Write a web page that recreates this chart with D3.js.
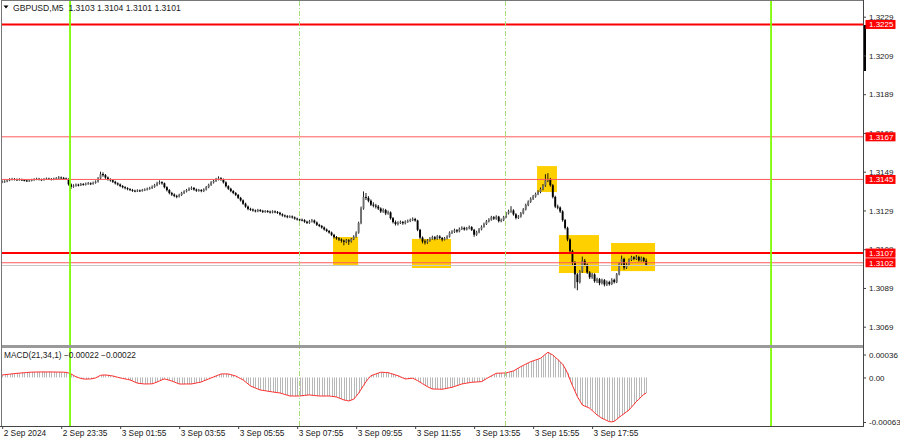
<!DOCTYPE html>
<html><head><meta charset="utf-8">
<script src="https://cdn.jsdelivr.net/npm/d3@7"></script>
<style>
body{margin:0;background:#fff;}
svg{display:block;font-family:"Liberation Sans",Arial,sans-serif;}
</style></head>
<body><svg id="c" width="900" height="441"></svg>
<script>
// ---- DATA ----
const symbol = "GBPUSD,M5";
const open = [
1.31436,1.31438,1.31440,1.31445,1.31450,1.31452,1.31450,1.31448,1.31450,1.31447,
1.31445,1.31442,1.31444,1.31448,1.31450,1.31453,1.31450,1.31448,1.31452,1.31454,
1.31452,1.31450,1.31453,1.31456,1.31460,1.31458,1.31455,1.31452,1.31425,1.31412,
1.31418,1.31423,1.31420,1.31426,1.31424,1.31428,1.31430,1.31427,1.31433,1.31438,
1.31455,1.31478,1.31472,1.31460,1.31450,1.31446,1.31438,1.31430,1.31424,1.31416,
1.31410,1.31405,1.31400,1.31396,1.31392,1.31390,1.31393,1.31391,1.31395,1.31398,
1.31402,1.31406,1.31412,1.31420,1.31430,1.31436,1.31430,1.31410,1.31395,1.31380,
1.31372,1.31365,1.31362,1.31370,1.31380,1.31388,1.31395,1.31402,1.31406,1.31398,
1.31392,1.31395,1.31390,1.31398,1.31410,1.31422,1.31435,1.31442,1.31450,1.31456,
1.31450,1.31435,1.31415,1.31402,1.31390,1.31380,1.31370,1.31355,1.31342,1.31325,
1.31310,1.31298,1.31295,1.31290,1.31286,1.31292,1.31288,1.31283,1.31287,1.31284,
1.31280,1.31285,1.31282,1.31278,1.31270,1.31264,1.31260,1.31256,1.31259,1.31254,
1.31248,1.31244,1.31242,1.31240,1.31232,1.31226,1.31234,1.31238,1.31228,1.31216,
1.31210,1.31202,1.31192,1.31184,1.31176,1.31164,1.31152,1.31146,1.31140,1.31134,
1.31128,1.31136,1.31130,1.31142,1.31155,1.31175,1.31225,1.31300,1.31360,1.31355,
1.31340,1.31320,1.31315,1.31310,1.31300,1.31285,1.31292,1.31275,1.31280,1.31250,
1.31230,1.31220,1.31226,1.31230,1.31224,1.31232,1.31236,1.31240,1.31246,1.31238,
1.31190,1.31150,1.31130,1.31125,1.31135,1.31145,1.31152,1.31144,1.31156,1.31148,
1.31140,1.31146,1.31155,1.31175,1.31180,1.31188,1.31182,1.31195,1.31200,1.31192,
1.31198,1.31204,1.31190,1.31165,1.31178,1.31192,1.31206,1.31220,1.31234,1.31242,
1.31255,1.31248,1.31258,1.31235,1.31240,1.31255,1.31275,1.31285,1.31290,1.31270,
1.31252,1.31258,1.31275,1.31295,1.31318,1.31335,1.31350,1.31362,1.31375,1.31385,
1.31400,1.31418,1.31445,1.31452,1.31420,1.31360,1.31310,1.31305,1.31285,1.31240,
1.31200,1.31140,1.31080,1.31020,1.30960,1.30920,1.30975,1.31030,1.31010,1.30970,
1.30945,1.30960,1.30925,1.30935,1.30915,1.30930,1.30908,1.30920,1.30910,1.30932,
1.30920,1.30960,1.31015,1.31040,1.30995,1.31010,1.31035,1.31048,1.31040,1.31050,
1.31032,1.31045,1.31030];
const high = [
1.31443,1.31444,1.31448,1.31454,1.31456,1.31455,1.31453,1.31454,1.31452,1.31450,
1.31447,1.31448,1.31451,1.31454,1.31457,1.31456,1.31452,1.31455,1.31458,1.31457,
1.31455,1.31457,1.31460,1.31465,1.31463,1.31461,1.31458,1.31454,1.31428,1.31423,
1.31427,1.31426,1.31430,1.31429,1.31432,1.31435,1.31433,1.31437,1.31443,1.31460,
1.31488,1.31485,1.31476,1.31463,1.31454,1.31449,1.31441,1.31433,1.31427,1.31419,
1.31413,1.31408,1.31403,1.31399,1.31395,1.31397,1.31396,1.31399,1.31402,1.31406,
1.31410,1.31417,1.31425,1.31436,1.31443,1.31439,1.31432,1.31413,1.31398,1.31384,
1.31376,1.31369,1.31374,1.31384,1.31392,1.31399,1.31407,1.31412,1.31409,1.31401,
1.31399,1.31398,1.31402,1.31414,1.31426,1.31439,1.31447,1.31456,1.31464,1.31460,
1.31453,1.31438,1.31418,1.31405,1.31393,1.31383,1.31373,1.31358,1.31345,1.31328,
1.31313,1.31302,1.31298,1.31293,1.31296,1.31295,1.31291,1.31290,1.31290,1.31287,
1.31289,1.31288,1.31285,1.31281,1.31273,1.31267,1.31264,1.31263,1.31262,1.31257,
1.31251,1.31248,1.31246,1.31243,1.31235,1.31239,1.31244,1.31241,1.31231,1.31219,
1.31213,1.31205,1.31195,1.31187,1.31179,1.31167,1.31156,1.31150,1.31144,1.31138,
1.31141,1.31140,1.31146,1.31160,1.31180,1.31230,1.31308,1.31386,1.31378,1.31362,
1.31345,1.31330,1.31322,1.31316,1.31304,1.31299,1.31296,1.31287,1.31283,1.31254,
1.31236,1.31232,1.31236,1.31234,1.31237,1.31241,1.31246,1.31252,1.31250,1.31240,
1.31193,1.31154,1.31138,1.31140,1.31150,1.31158,1.31156,1.31161,1.31160,1.31151,
1.31151,1.31160,1.31180,1.31186,1.31194,1.31192,1.31200,1.31206,1.31204,1.31203,
1.31210,1.31207,1.31193,1.31183,1.31197,1.31211,1.31225,1.31239,1.31248,1.31260,
1.31259,1.31263,1.31260,1.31246,1.31260,1.31280,1.31292,1.31310,1.31294,1.31274,
1.31264,1.31280,1.31300,1.31323,1.31340,1.31356,1.31368,1.31380,1.31392,1.31406,
1.31424,1.31475,1.31480,1.31456,1.31424,1.31364,1.31318,1.31309,1.31289,1.31244,
1.31204,1.31144,1.31085,1.31026,1.30965,1.30980,1.31050,1.31038,1.31014,1.30975,
1.30966,1.30964,1.30941,1.30939,1.30936,1.30934,1.30926,1.30925,1.30938,1.30936,
1.30965,1.31020,1.31055,1.31044,1.31016,1.31040,1.31054,1.31052,1.31058,1.31054,
1.31050,1.31048,1.31040];
const low = [
1.31433,1.31435,1.31438,1.31443,1.31447,1.31447,1.31445,1.31446,1.31444,1.31442,
1.31439,1.31440,1.31442,1.31446,1.31448,1.31447,1.31445,1.31446,1.31450,1.31449,
1.31447,1.31448,1.31451,1.31454,1.31455,1.31452,1.31449,1.31420,1.31403,1.31409,
1.31415,1.31416,1.31418,1.31420,1.31421,1.31425,1.31423,1.31425,1.31430,1.31436,
1.31452,1.31466,1.31455,1.31446,1.31441,1.31434,1.31426,1.31420,1.31412,1.31406,
1.31401,1.31396,1.31392,1.31388,1.31386,1.31387,1.31388,1.31389,1.31392,1.31395,
1.31399,1.31403,1.31409,1.31417,1.31426,1.31425,1.31406,1.31390,1.31375,1.31367,
1.31360,1.31355,1.31359,1.31367,1.31377,1.31385,1.31392,1.31398,1.31394,1.31388,
1.31389,1.31386,1.31387,1.31395,1.31407,1.31419,1.31431,1.31439,1.31447,1.31445,
1.31431,1.31411,1.31398,1.31386,1.31376,1.31366,1.31351,1.31338,1.31321,1.31306,
1.31293,1.31290,1.31286,1.31282,1.31283,1.31284,1.31279,1.31280,1.31280,1.31276,
1.31277,1.31278,1.31274,1.31266,1.31260,1.31256,1.31252,1.31253,1.31250,1.31244,
1.31240,1.31238,1.31236,1.31228,1.31222,1.31223,1.31230,1.31224,1.31212,1.31206,
1.31198,1.31188,1.31180,1.31172,1.31160,1.31147,1.31141,1.31134,1.31126,1.31112,
1.31123,1.31114,1.31126,1.31139,1.31152,1.31172,1.31221,1.31296,1.31346,1.31334,
1.31315,1.31308,1.31302,1.31294,1.31279,1.31280,1.31268,1.31270,1.31245,1.31225,
1.31214,1.31215,1.31222,1.31218,1.31220,1.31228,1.31232,1.31237,1.31234,1.31185,
1.31144,1.31122,1.31116,1.31120,1.31131,1.31141,1.31138,1.31141,1.31143,1.31132,
1.31137,1.31143,1.31152,1.31170,1.31176,1.31177,1.31179,1.31191,1.31188,1.31189,
1.31195,1.31186,1.31156,1.31161,1.31174,1.31189,1.31203,1.31217,1.31230,1.31239,
1.31243,1.31244,1.31230,1.31231,1.31237,1.31252,1.31271,1.31280,1.31265,1.31246,
1.31248,1.31255,1.31272,1.31292,1.31314,1.31331,1.31346,1.31358,1.31371,1.31381,
1.31396,1.31414,1.31438,1.31415,1.31354,1.31304,1.31298,1.31279,1.31234,1.31194,
1.31133,1.31072,1.31010,1.30890,1.30880,1.30915,1.30970,1.31004,1.30964,1.30938,
1.30939,1.30919,1.30918,1.30906,1.30910,1.30900,1.30902,1.30904,1.30907,1.30915,
1.30917,1.30957,1.31011,1.30986,1.30990,1.31006,1.31031,1.31035,1.31036,1.31028,
1.31028,1.31025,1.31010];
const close = [
1.31438,1.31440,1.31445,1.31450,1.31452,1.31450,1.31448,1.31450,1.31447,1.31445,
1.31442,1.31444,1.31448,1.31450,1.31453,1.31450,1.31448,1.31452,1.31454,1.31452,
1.31450,1.31453,1.31456,1.31460,1.31458,1.31455,1.31452,1.31425,1.31412,1.31418,
1.31423,1.31420,1.31426,1.31424,1.31428,1.31430,1.31427,1.31433,1.31438,1.31455,
1.31478,1.31472,1.31460,1.31450,1.31446,1.31438,1.31430,1.31424,1.31416,1.31410,
1.31405,1.31400,1.31396,1.31392,1.31390,1.31393,1.31391,1.31395,1.31398,1.31402,
1.31406,1.31412,1.31420,1.31430,1.31436,1.31430,1.31410,1.31395,1.31380,1.31372,
1.31365,1.31362,1.31370,1.31380,1.31388,1.31395,1.31402,1.31406,1.31398,1.31392,
1.31395,1.31390,1.31398,1.31410,1.31422,1.31435,1.31442,1.31450,1.31456,1.31450,
1.31435,1.31415,1.31402,1.31390,1.31380,1.31370,1.31355,1.31342,1.31325,1.31310,
1.31298,1.31295,1.31290,1.31286,1.31292,1.31288,1.31283,1.31287,1.31284,1.31280,
1.31285,1.31282,1.31278,1.31270,1.31264,1.31260,1.31256,1.31259,1.31254,1.31248,
1.31244,1.31242,1.31240,1.31232,1.31226,1.31234,1.31238,1.31228,1.31216,1.31210,
1.31202,1.31192,1.31184,1.31176,1.31164,1.31152,1.31146,1.31140,1.31134,1.31128,
1.31136,1.31130,1.31142,1.31155,1.31175,1.31225,1.31300,1.31360,1.31355,1.31340,
1.31320,1.31315,1.31310,1.31300,1.31285,1.31292,1.31275,1.31280,1.31250,1.31230,
1.31220,1.31226,1.31230,1.31224,1.31232,1.31236,1.31240,1.31246,1.31238,1.31190,
1.31150,1.31130,1.31125,1.31135,1.31145,1.31152,1.31144,1.31156,1.31148,1.31140,
1.31146,1.31155,1.31175,1.31180,1.31188,1.31182,1.31195,1.31200,1.31192,1.31198,
1.31204,1.31190,1.31165,1.31178,1.31192,1.31206,1.31220,1.31234,1.31242,1.31255,
1.31248,1.31258,1.31235,1.31240,1.31255,1.31275,1.31285,1.31290,1.31270,1.31252,
1.31258,1.31275,1.31295,1.31318,1.31335,1.31350,1.31362,1.31375,1.31385,1.31400,
1.31418,1.31445,1.31452,1.31420,1.31360,1.31310,1.31305,1.31285,1.31240,1.31200,
1.31140,1.31080,1.31020,1.30960,1.30920,1.30975,1.31030,1.31010,1.30970,1.30945,
1.30960,1.30925,1.30935,1.30915,1.30930,1.30908,1.30920,1.30910,1.30932,1.30920,
1.30960,1.31015,1.31040,1.30995,1.31010,1.31035,1.31048,1.31040,1.31050,1.31032,
1.31045,1.31030,1.31010];
// MACD(21,34,1) main value (histogram) = signal line
const macd = [
3.5e-5,3.9e-5,4.3e-5,4.7e-5,5.1e-5,5.5e-5,5.8e-5,6.1e-5,6.4e-5,6.7e-5,
7.0e-5,7.3e-5,7.5e-5,7.6e-5,7.7e-5,7.7e-5,7.8e-5,7.8e-5,7.7e-5,7.8e-5,
7.8e-5,7.7e-5,7.6e-5,7.6e-5,7.5e-5,7.4e-5,7.2e-5,6.3e-5,5.0e-5,3.0e-5,
1.0e-5,-0.2e-5,-1.3e-5,-2.1e-5,-2.3e-5,-2.2e-5,-2.1e-5,-1.5e-5,-0.7e-5,1.2e-5,
3.0e-5,3.4e-5,3.5e-5,3.1e-5,2.6e-5,2.1e-5,1.2e-5,0.3e-5,-0.7e-5,-1.4e-5,
-2.1e-5,-2.8e-5,-3.5e-5,-5.0e-5,-6.5e-5,-8.0e-5,-8.5e-5,-8.9e-5,-9.2e-5,-9.2e-5,
-9.1e-5,-9.0e-5,-7.8e-5,-6.4e-5,-4.9e-5,-3.4e-5,-2.1e-5,-3.0e-5,-4.0e-5,-5.0e-5,
-6.4e-5,-7.8e-5,-9.2e-5,-9.3e-5,-9.3e-5,-9.2e-5,-9.2e-5,-9.2e-5,-8.5e-5,-7.8e-5,
-7.1e-5,-6.4e-5,-4.9e-5,-3.5e-5,-2.1e-5,-0.7e-5,0.7e-5,2.1e-5,3.5e-5,4.9e-5,
5.0e-5,5.0e-5,4.9e-5,4.0e-5,3.0e-5,2.1e-5,0.2e-5,-1.7e-5,-3.5e-5,-6.3e-5,
-9.2e-5,-12.0e-5,-13.5e-5,-15.0e-5,-16.3e-5,-17.7e-5,-18.3e-5,-18.8e-5,-19.4e-5,-19.9e-5,
-20.5e-5,-21.0e-5,-21.5e-5,-21.9e-5,-23.0e-5,-24.1e-5,-25.1e-5,-26.2e-5,-26.2e-5,-26.3e-5,
-26.2e-5,-26.2e-5,-25.8e-5,-25.4e-5,-25.0e-5,-24.7e-5,-25.1e-5,-25.5e-5,-25.9e-5,-26.2e-5,
-26.2e-5,-26.3e-5,-26.2e-5,-26.2e-5,-26.7e-5,-27.1e-5,-27.6e-5,-29.0e-5,-30.4e-5,-31.8e-5,
-32.5e-5,-33.2e-5,-32.0e-5,-30.8e-5,-26.6e-5,-22.3e-5,-16.8e-5,-11.3e-5,-5.9e-5,-1.7e-5,
2.5e-5,3.7e-5,4.9e-5,6.2e-5,7.4e-5,7.2e-5,7.0e-5,6.8e-5,5.7e-5,4.7e-5,
3.6e-5,2.5e-5,1.0e-5,-0.6e-5,-2.1e-5,-1.8e-5,-1.4e-5,-1.1e-5,-2.8e-5,-4.5e-5,
-6.6e-5,-8.8e-5,-10.9e-5,-13.0e-5,-14.7e-5,-16.3e-5,-16.4e-5,-16.5e-5,-16.6e-5,-16.7e-5,
-16.0e-5,-15.3e-5,-14.6e-5,-13.9e-5,-12.7e-5,-11.6e-5,-10.4e-5,-9.2e-5,-8.6e-5,-8.0e-5,
-7.4e-5,-6.8e-5,-6.6e-5,-6.4e-5,-6.1e-5,-5.9e-5,-3.8e-5,-1.7e-5,0.3e-5,2.2e-5,
4.0e-5,5.9e-5,6.0e-5,6.1e-5,6.3e-5,6.4e-5,7.3e-5,8.3e-5,9.2e-5,11.2e-5,
13.3e-5,15.3e-5,17.1e-5,18.8e-5,20.6e-5,22.3e-5,23.5e-5,24.7e-5,25.9e-5,27.1e-5,
30.0e-5,32.8e-5,35.6e-5,33.7e-5,31.8e-5,28.6e-5,25.5e-5,22.3e-5,18.5e-5,13.0e-5,
6.0e-5,-3.0e-5,-11.5e-5,-19.2e-5,-27.1e-5,-33.0e-5,-38.9e-5,-40.5e-5,-42.0e-5,-43.6e-5,
-46.7e-5,-49.9e-5,-53.0e-5,-55.4e-5,-57.7e-5,-59.3e-5,-60.9e-5,-62.5e-5,-62.8e-5,-62.0e-5,
-59.2e-5,-56.3e-5,-53.7e-5,-51.2e-5,-48.6e-5,-46.0e-5,-42.1e-5,-38.1e-5,-34.2e-5,-30.8e-5,
-27.4e-5,-24.0e-5,-22.0e-5];

const priceTicks = [1.3229,1.3209,1.3189,1.3169,1.3149,1.3129,1.3109,1.3089,1.3069];
const macdTicks = [0.00036, 0, -0.00063];
const macdTickLabels = ["0.00036","0.00","-0.00063"];
const xTickBars = [0,24,48,72,96,120,144,168,192,216,240];
const xTickLabels = ["2 Sep 2024","2 Sep 23:35","3 Sep 01:55","3 Sep 03:55","3 Sep 05:55",
  "3 Sep 07:55","3 Sep 09:55","3 Sep 11:55","3 Sep 13:55","3 Sep 15:55","3 Sep 17:55"];

// horizontal levels
const levelPrices = [1.3225, 1.3167, 1.3145, 1.3107, 1.3102];
const levelThick  = [true, false, false, true, false];
const bidPrice = 1.3101;
// vertical markers (bar index)
const dayLineBars = [27.6, 312.8];
const sessionLineBars = [120.8, 204.6];
// highlighted boxes
const boxStart = [134.6, 166.7, 217.6, 226.5, 247.7];
const boxEnd   = [144.8, 182.6, 225.7, 242.8, 265.6];
const boxHigh  = [1.31153, 1.31143, 1.31519, 1.31163, 1.31122];
const boxLow   = [1.31008, 1.30993, 1.31385, 1.30967, 1.30977];

// ---- LAYOUT ----
const axisX = 863, mainBottom = 345, subTop = 348, subBottom = 426;
const svg = d3.select("#c");
svg.append("rect").attr("width",900).attr("height",441).attr("fill","#fff");

const n = close.length;
const x = d3.scaleLinear().domain([0, n-1]).range([2.2, 2.2 + (n-1)*2.458]);
const y = d3.scaleLinear().domain([1.3069, 1.3229]).range([326.7, 16.7]);
const ym = d3.scaleLinear().domain([-0.00063, 0.00036]).range([422, 352]);

const defs = svg.append("defs");
defs.append("clipPath").attr("id","cm").append("rect").attr("x",1).attr("y",1).attr("width",axisX-1).attr("height",mainBottom-1);
defs.append("clipPath").attr("id","cs").append("rect").attr("x",1).attr("y",subTop).attr("width",axisX-1).attr("height",subBottom-subTop);

const gMain = svg.append("g").attr("clip-path","url(#cm)");
const gSub = svg.append("g").attr("clip-path","url(#cs)");

// boxes (background)
gMain.selectAll("rect.box").data(boxStart.map((s,i)=>i)).join("rect").attr("class","box")
  .attr("x", i=>x(boxStart[i])).attr("width", i=>x(boxEnd[i])-x(boxStart[i]))
  .attr("y", i=>y(boxHigh[i])).attr("height", i=>y(boxLow[i])-y(boxHigh[i]))
  .attr("fill","#FFD000");

// candles
const idx = d3.range(n);
gMain.selectAll("line.wick").data(idx).join("line").attr("class","wick")
  .attr("x1", i=>x(i)).attr("x2", i=>x(i))
  .attr("y1", i=>y(high[i])-0.4).attr("y2", i=>y(low[i])+0.4)
  .attr("stroke","#000").attr("stroke-width",0.9);
gMain.selectAll("rect.body").data(idx).join("rect").attr("class","body")
  .attr("x", i=>x(i)-0.95).attr("width",1.9)
  .attr("y", i=>y(Math.max(open[i],close[i])))
  .attr("height", i=>Math.max(0.9, Math.abs(y(open[i])-y(close[i]))))
  .attr("fill", i=> close[i]>=open[i] ? "#6e6e6e" : "#000");

// MACD histogram + line
gSub.selectAll("rect.hist").data(idx).join("rect").attr("class","hist")
  .attr("x", i=>Math.round(x(i))).attr("width",1)
  .attr("y", i=>Math.min(ym(0), ym(macd[i])))
  .attr("height", i=>Math.abs(ym(macd[i])-ym(0)))
  .attr("fill","#B8B8B8");
gSub.append("path").datum(idx)
  .attr("d", d3.line().x(i=>x(i)).y(i=>ym(macd[i])))
  .attr("fill","none").attr("stroke","#FF2A2A").attr("stroke-width",1);

// vertical lines
svg.selectAll("line.sess").data(sessionLineBars).join("line").attr("class","sess")
  .attr("x1", d=>Math.round(x(d))+0.5).attr("x2", d=>Math.round(x(d))+0.5)
  .attr("y1", 1).attr("y2", subBottom)
  .attr("stroke","#A6DC7A").attr("stroke-width",1).attr("stroke-dasharray","5,2,1,2");
svg.selectAll("line.day").data(dayLineBars).join("line").attr("class","day")
  .attr("x1", d=>x(d)).attr("x2", d=>x(d))
  .attr("y1", 1).attr("y2", subBottom)
  .attr("stroke","#7CFC00").attr("stroke-width",1.8);

// level lines
gMain.selectAll("line.lvl").data(levelPrices.map((p,i)=>i)).join("line").attr("class","lvl")
  .attr("x1",1).attr("x2",axisX)
  .attr("y1", i=>y(levelPrices[i])).attr("y2", i=>y(levelPrices[i]))
  .attr("stroke", i=>levelThick[i] ? "#FF0000" : "#FF5A5A")
  .attr("stroke-width", i=>levelThick[i] ? 2 : 1);
gMain.append("line").attr("x1",1).attr("x2",axisX)
  .attr("y1", Math.round(y(bidPrice))+0.5).attr("y2", Math.round(y(bidPrice))+0.5)
  .attr("stroke","#C8C8C8").attr("stroke-width",1);

// frames
svg.append("rect").attr("x",1).attr("y",mainBottom).attr("width",axisX-1).attr("height",3).attr("fill","#9a9a9a");
svg.append("line").attr("x1",1.5).attr("x2",1.5).attr("y1",0).attr("y2",subBottom).attr("stroke","#777");
svg.append("line").attr("x1",1).attr("x2",axisX).attr("y1",0.5).attr("y2",0.5).attr("stroke","#777");
svg.append("line").attr("x1",axisX+0.5).attr("x2",axisX+0.5).attr("y1",0).attr("y2",subBottom).attr("stroke","#444");
svg.append("line").attr("x1",0).attr("x2",axisX+1).attr("y1",subBottom+0.5).attr("y2",subBottom+0.5).attr("stroke","#444");
svg.append("rect").attr("x",864).attr("y",25).attr("width",2).attr("height",46).attr("fill","#000");

// axes
function styleAxis(g){
  g.select(".domain").remove();
  g.selectAll(".tick line").attr("stroke","#444");
  g.selectAll(".tick text").attr("fill","#1a1a1a").attr("font-size","8px").attr("font-family","'Liberation Sans',Arial,sans-serif");
}
const yAxis = svg.append("g").attr("transform",`translate(${axisX},0)`)
  .call(d3.axisRight(y).tickValues(priceTicks).tickSize(3).tickPadding(3).tickFormat(d3.format(".4f")));
styleAxis(yAxis);
const mAxis = svg.append("g").attr("transform",`translate(${axisX},0)`)
  .call(d3.axisRight(ym).tickValues(macdTicks).tickSize(3).tickPadding(3).tickFormat((d,i)=>macdTickLabels[i]));
styleAxis(mAxis);
mAxis.selectAll(".tick").filter(d=>d===macdTicks[0]).attr("transform",`translate(0,${ym(macdTicks[0])+3})`);
const xAxis = svg.append("g").attr("transform",`translate(0,${subBottom})`)
  .call(d3.axisBottom(x).tickValues(xTickBars).tickSize(3).tickPadding(1).tickFormat((d,i)=>xTickLabels[i]));
styleAxis(xAxis);
xAxis.selectAll(".tick text").attr("text-anchor","start").attr("x",1).attr("font-size","8.3px");

// level labels on price axis
const lblG = svg.append("g");
levelPrices.forEach((p,i)=>{
  const yy = y(p);
  lblG.append("rect").attr("x",865.5).attr("y",yy-4.5).attr("width",30).attr("height",9).attr("fill","#FF0000");
  lblG.append("text").attr("x",869).attr("y",yy).attr("dy","0.35em").attr("fill","#fff")
    .attr("font-size","8px").text(d3.format(".4f")(p));
});

// header
const f4 = d3.format(".4f");
svg.append("path").attr("d","M3.5,5.5 L8.5,5.5 L6,8.5 Z").attr("fill","#000");
svg.append("text").attr("x",13).attr("y",10.5).attr("font-size","8.6px").attr("fill","#1a1a1a")
  .attr("xml:space","preserve")
  .text(`${symbol}  ${f4(open[n-1])} ${f4(high[n-1])} ${f4(low[n-1])} ${f4(close[n-1])}`);
const f5 = d3.format(".5f");
svg.append("text").attr("x",4).attr("y",357.5).attr("font-size","8.3px").attr("fill","#1a1a1a")
  .text(`MACD(21,34,1) ${f5(macd[n-1])} ${f5(macd[n-1])}`);
</script>
</body></html>
